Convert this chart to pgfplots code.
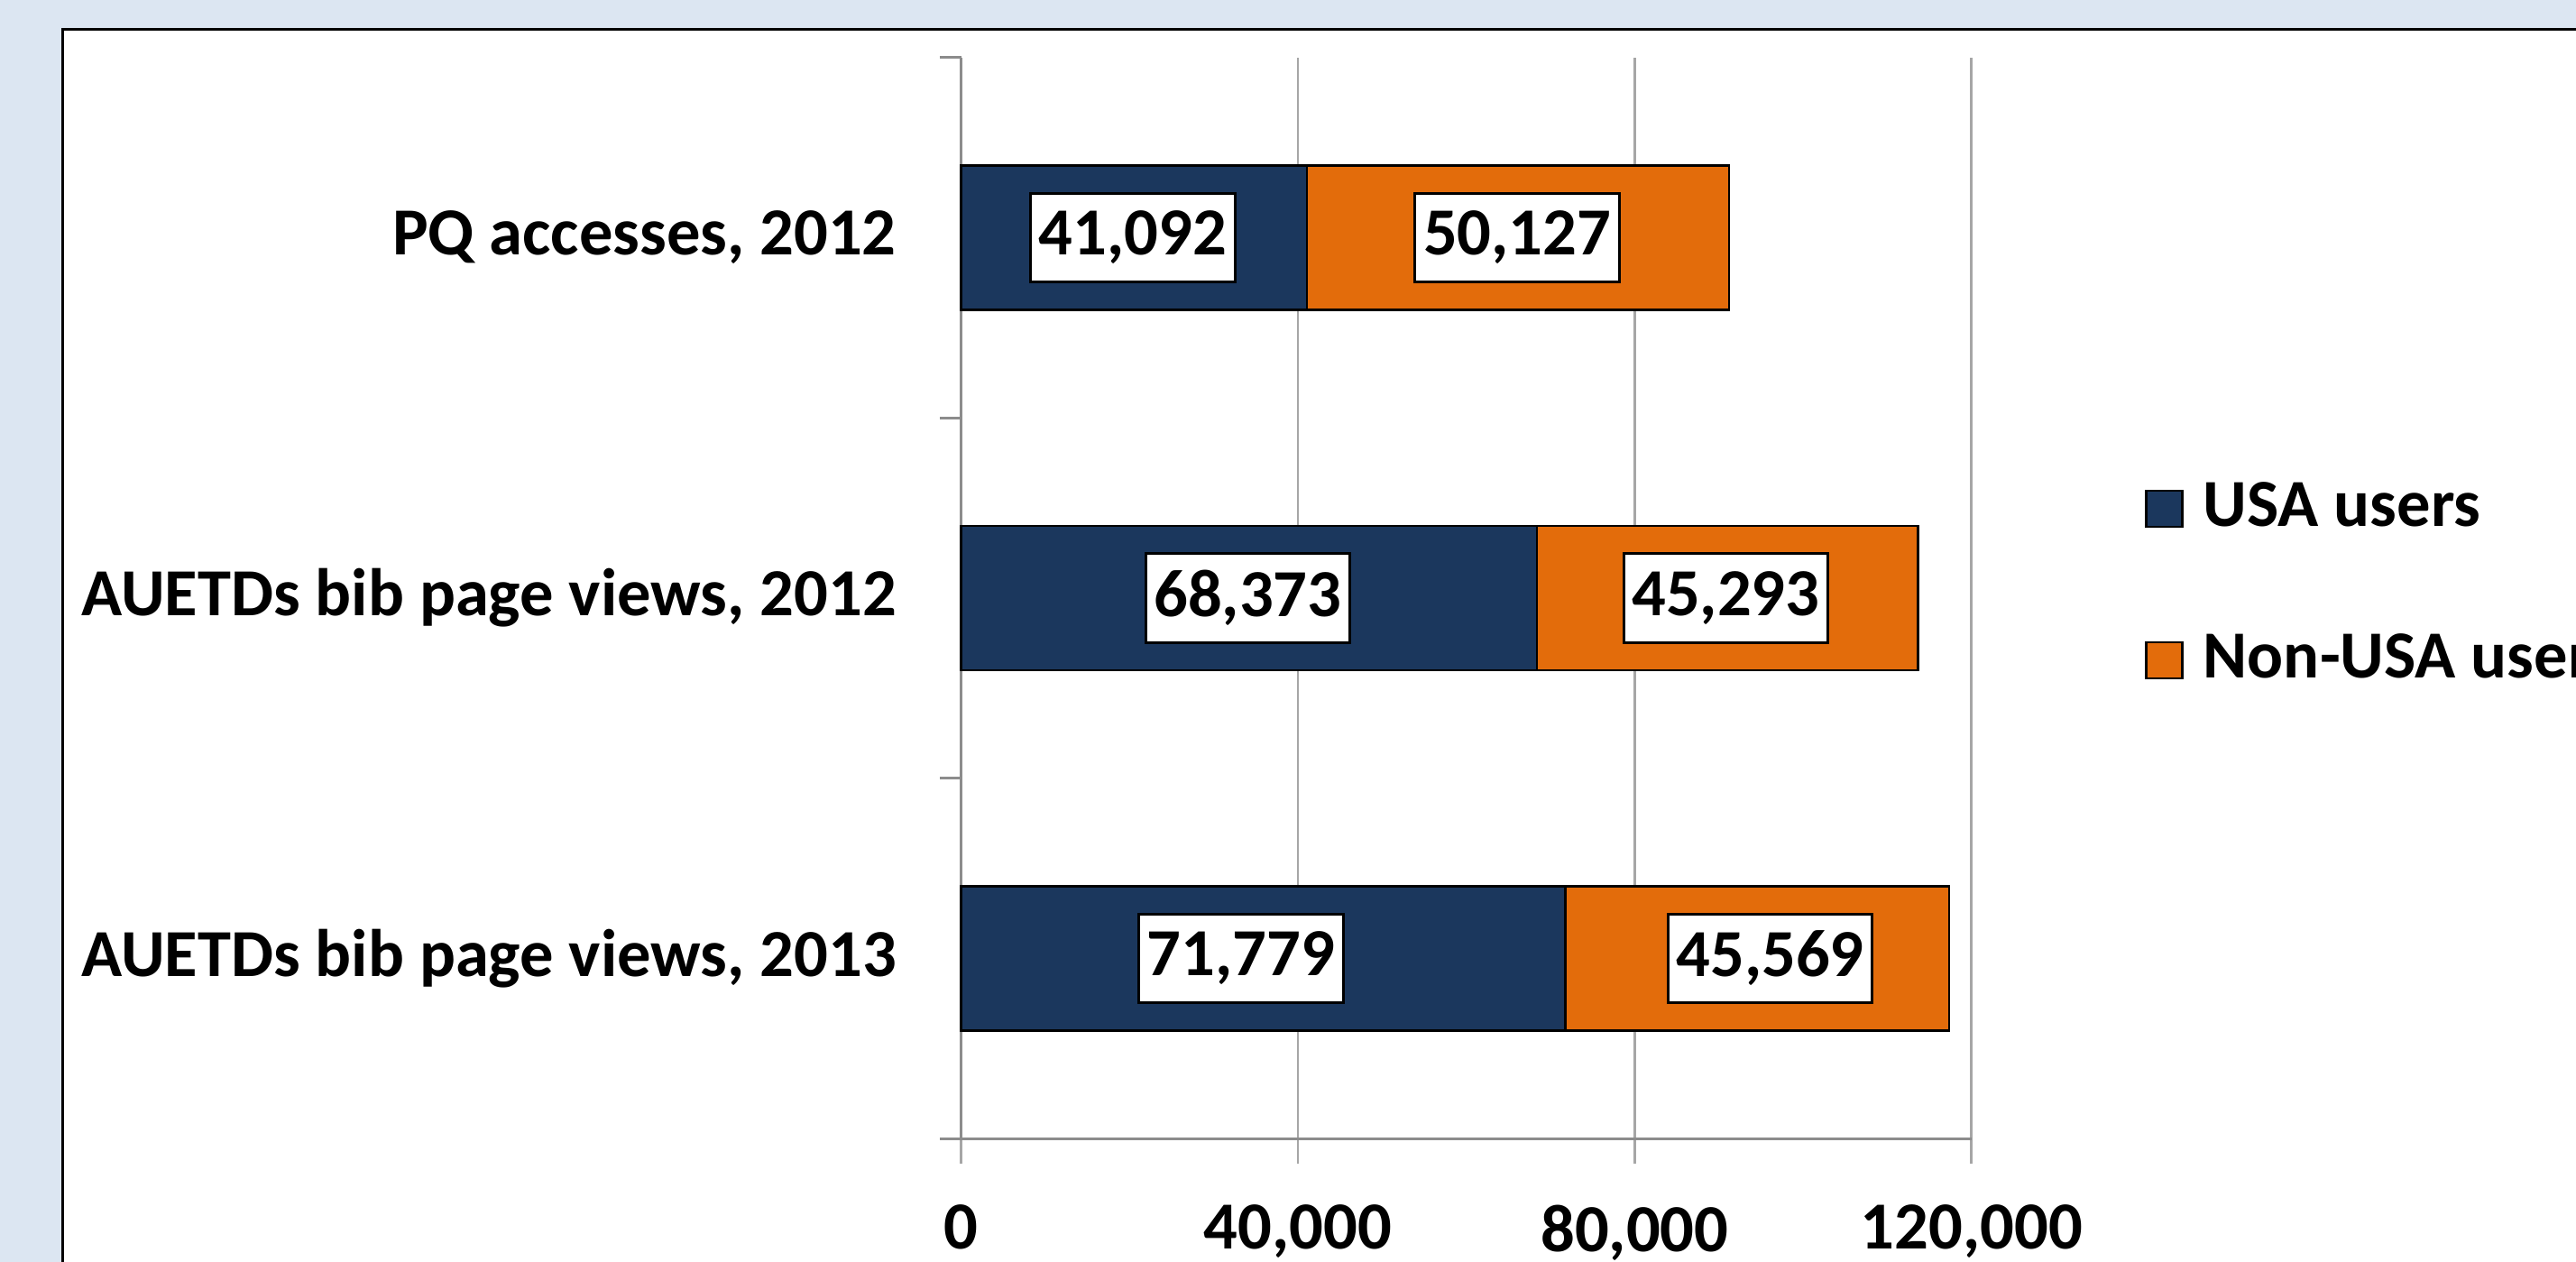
\documentclass[border=0pt]{standalone}
\usepackage{fontspec}
\setmainfont{Carlito}
\usepackage{pgfplots}
\pgfplotsset{compat=1.18}
\definecolor{bg}{HTML}{DCE6F2}
\definecolor{navy}{HTML}{1B375D}
\definecolor{orng}{HTML}{E36C0B}
\definecolor{gridc}{HTML}{A6A6A6}
\definecolor{axc}{HTML}{8C8C8C}
\newcommand{\bigbf}{\fontsize{11.65}{13}\selectfont\bfseries}
\tikzset{lbl/.style={fill=white, draw=black, line width=0.5pt, font=\bigbf, inner xsep=0.5mm, inner ysep=0pt, minimum height=5.4mm}}
\begin{document}
\begin{tikzpicture}[x=1cm,y=1cm]
\useasboundingbox (0,0) rectangle (15.68,7.68);
\clip (0,0) rectangle (15.68,7.68);
\fill[bg] (0,0) rectangle (15.68,7.68);
\filldraw[fill=white, draw=black, line width=0.5pt] (0.38,7.50) rectangle (16.5,-1);
\begin{axis}[
  at={(5.85cm,0.75cm)}, anchor=south west,
  width=6.15cm, height=6.58cm, scale only axis,
  xbar stacked, bar width=0.88cm,
  xmin=0, xmax=120000, ymin=0, ymax=3,
  axis x line*=bottom, axis y line*=left,
  axis line style={draw=axc, line width=0.5pt, -},
  clip=false,
  xtick={0,40000,80000,120000},
  xticklabels={0,{40,000},{80,000},{120,000}},
  xmajorgrids, major grid style={draw=gridc, line width=0.4pt},
  tick align=outside,
  major tick length=0.15cm, minor tick length=0.13cm,
  xtick style={draw=gridc, line width=0.4pt},
  ytick={0.5,1.5,2.5},
  yticklabels={{AUETDs bib page views, 2013},{AUETDs bib page views, 2012},{PQ accesses, 2012}},
  ytick style={draw=none},
  minor ytick={0,1,2,3},
  minor y tick style={draw=axc, line width=0.5pt},
  tick label style={font=\bigbf},
  yticklabel style={xshift=-1.2mm},
  xticklabel style={yshift=-1.3mm},
  legend style={draw=none, fill=none, at={(rel axis cs:1.1707,0.608)}, anchor=north west,
    font=\bigbf, row sep=6.0mm, column sep=1.2mm, inner sep=0pt, nodes={inner sep=0pt}},
  legend cell align=left,
  legend image code/.code={\draw[#1] (0cm,-0.11cm) rectangle (0.22cm,0.11cm);},
]
\addplot[fill=navy, draw=black, line width=0.4pt] coordinates {(71779,0.5) (68373,1.5) (41092,2.5)};
\addplot[fill=orng, draw=black, line width=0.4pt] coordinates {(45569,0.5) (45293,1.5) (50127,2.5)};
\legend{USA users, Non-USA users}
\coordinate (l1) at (axis cs:20390,2.5);
\coordinate (l2) at (axis cs:66049,2.5);
\coordinate (l3) at (axis cs:34049,1.5);
\coordinate (l4) at (axis cs:90829,1.5);
\coordinate (l5) at (axis cs:33268,0.5);
\coordinate (l6) at (axis cs:96098,0.5);
\end{axis}
\node[lbl] at (l1) {41,092};
\node[lbl] at (l2) {50,127};
\node[lbl] at (l3) {68,373};
\node[lbl] at (l4) {45,293};
\node[lbl] at (l5) {71,779};
\node[lbl] at (l6) {45,569};
\end{tikzpicture}
\end{document}
